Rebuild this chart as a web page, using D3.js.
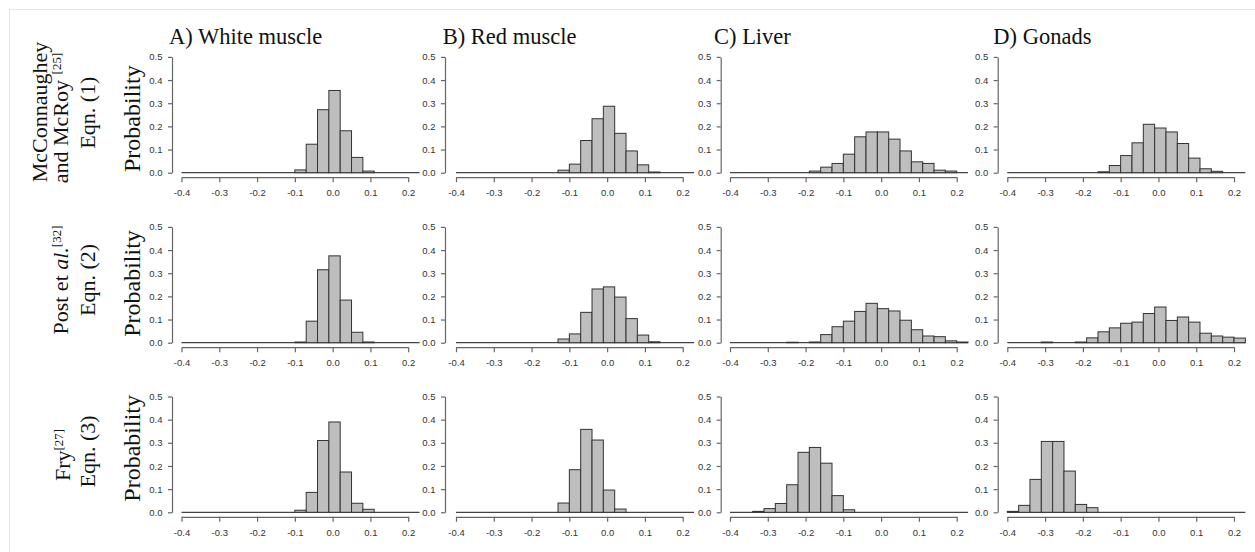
<!DOCTYPE html>
<html>
<head>
<meta charset="utf-8">
<script src="https://cdn.jsdelivr.net/npm/d3@7"></script>
<style>
  html, body { margin: 0; padding: 0; background: #fff; }
  svg { display: block; }
</style>
</head>
<body>
<svg id="chart" width="1255" height="552"></svg>
<script>
// ---------------- data ----------------
const columnTitles = ["A) White muscle", "B) Red muscle", "C) Liver", "D) Gonads"];
const xTickValues = [-0.4, -0.3, -0.2, -0.1, 0.0, 0.1, 0.2];
const yTickValues = [0.0, 0.1, 0.2, 0.3, 0.4, 0.5];
const binWidth = 0.03;
const histRange = [-0.40, 0.23];

// Row 1: McConnaughey and McRoy, Eqn. (1)
const mcc_white_start = -0.10;
const mcc_white = [0.012, 0.123, 0.272, 0.355, 0.181, 0.066, 0.007];
const mcc_red_start = -0.13;
const mcc_red = [0.011, 0.037, 0.139, 0.233, 0.287, 0.170, 0.094, 0.034, 0.003];
const mcc_liver_start = -0.19;
const mcc_liver = [0.007, 0.024, 0.040, 0.080, 0.155, 0.176, 0.176, 0.145, 0.094, 0.047, 0.040, 0.011, 0.007];
const mcc_gonads_start = -0.16;
const mcc_gonads = [0.004, 0.031, 0.074, 0.129, 0.209, 0.193, 0.176, 0.126, 0.063, 0.017, 0.006];

// Row 2: Post et al., Eqn. (2)
const post_white_start = -0.10;
const post_white = [0.003, 0.093, 0.315, 0.375, 0.184, 0.045, 0.003];
const post_red_start = -0.13;
const post_red = [0.016, 0.038, 0.131, 0.232, 0.241, 0.197, 0.104, 0.033, 0.004];
const post_liver_start = -0.25;
const post_liver = [0.002, 0.000, 0.003, 0.035, 0.069, 0.093, 0.135, 0.170, 0.147, 0.137, 0.097, 0.056, 0.029, 0.026, 0.008, 0.003];
const post_gonads_start = -0.31;
const post_gonads = [0.003, 0.000, 0.000, 0.003, 0.021, 0.047, 0.064, 0.084, 0.089, 0.126, 0.154, 0.096, 0.111, 0.089, 0.041, 0.029, 0.024, 0.020];

// Row 3: Fry, Eqn. (3)
const fry_white_start = -0.10;
const fry_white = [0.009, 0.086, 0.310, 0.390, 0.174, 0.039, 0.013];
const fry_red_start = -0.13;
const fry_red = [0.040, 0.184, 0.358, 0.312, 0.096, 0.014];
const fry_liver_start = -0.34;
const fry_liver = [0.004, 0.016, 0.038, 0.119, 0.259, 0.280, 0.212, 0.072, 0.011];
const fry_gonads_start = -0.40;
const fry_gonads = [0.004, 0.030, 0.142, 0.306, 0.306, 0.178, 0.034, 0.020];

const panels = [
  [[mcc_white_start, mcc_white], [mcc_red_start, mcc_red], [mcc_liver_start, mcc_liver], [mcc_gonads_start, mcc_gonads]],
  [[post_white_start, post_white], [post_red_start, post_red], [post_liver_start, post_liver], [post_gonads_start, post_gonads]],
  [[fry_white_start, fry_white], [fry_red_start, fry_red], [fry_liver_start, fry_liver], [fry_gonads_start, fry_gonads]]
];

// ---------------- layout ----------------
const colX0 = [181.5, 456, 730, 1007.3];   // pixel of x = -0.4
const colW = 226.7;                         // pixel span from -0.4 to 0.2
const yAxisX = [172, 445, 720.7, 997.7];
const rowY0 = [172.7, 342.7, 512.3];        // pixel of y = 0
const rowH = 115.8;                          // pixel span from 0 to 0.5

const svg = d3.select("#chart");
const serif = "'Liberation Serif', 'Times New Roman', serif";
const sans = "'Liberation Sans', Arial, sans-serif";

// thin frame
svg.append("line").attr("x1", 9).attr("x2", 1255).attr("y1", 9.5).attr("y2", 9.5)
  .attr("stroke", "#e6e6e6").attr("stroke-width", 1);
svg.append("line").attr("x1", 9.5).attr("x2", 9.5).attr("y1", 9).attr("y2", 552)
  .attr("stroke", "#e6e6e6").attr("stroke-width", 1);

const fmt = d => d.toFixed(1);

panels.forEach((row, r) => {
  row.forEach(([start, probs], c) => {
    const x = d3.scaleLinear().domain([-0.4, 0.2]).range([colX0[c], colX0[c] + colW]);
    const y = d3.scaleLinear().domain([0, 0.5]).range([rowY0[r], rowY0[r] - rowH]);
    const g = svg.append("g");

    // zero-count baseline (histogram extent)
    g.append("line")
      .attr("x1", x(histRange[0])).attr("x2", x(histRange[1]))
      .attr("y1", y(0)).attr("y2", y(0))
      .attr("stroke", "#444").attr("stroke-width", 1.3);

    const bins = probs.map((p, i) => ({x0: start + i * binWidth, x1: start + (i + 1) * binWidth, p}));
    g.selectAll("rect.bar").data(bins.filter(b => b.p > 0)).join("rect")
      .attr("class", "bar")
      .attr("x", d => x(d.x0))
      .attr("width", d => x(d.x1) - x(d.x0))
      .attr("y", d => y(d.p))
      .attr("height", d => y(0) - y(d.p))
      .attr("fill", "#bebebe")
      .attr("stroke", "#333")
      .attr("stroke-width", 1);

    // x axis
    const xa = g.append("g")
      .attr("transform", `translate(0,${rowY0[r] + 4.5})`)
      .call(d3.axisBottom(x).tickValues(xTickValues).tickFormat(fmt).tickSize(5).tickSizeOuter(0).tickPadding(7.3));
    // y axis
    const ya = g.append("g")
      .attr("transform", `translate(${yAxisX[c]},0)`)
      .call(d3.axisLeft(y).tickValues(yTickValues).tickFormat(fmt).tickSize(4).tickSizeOuter(0).tickPadding(5.5));
    [xa, ya].forEach(a => {
      a.selectAll("path.domain").attr("stroke", "#666").attr("stroke-width", 1.2);
      a.selectAll(".tick line").attr("stroke", "#666").attr("stroke-width", 1.2);
      a.selectAll("text").attr("fill", "#333").style("font-family", sans).style("font-size", "9.5px");
    });
  });

  // Probability label
  const cy = [118.7, 283.5, 448.3][r];
  svg.append("text")
    .attr("transform", `translate(139.5,${cy}) rotate(-90)`)
    .attr("text-anchor", "middle")
    .style("font-family", serif).style("font-size", "24px").attr("fill", "#111")
    .text("Probability");
});

// column titles
const titleX = [169, 442.7, 714, 993.3];
columnTitles.forEach((t, c) => {
  svg.append("text").attr("x", titleX[c]).attr("y", 44.3)
    .style("font-family", serif).style("font-size", "22.5px").attr("fill", "#111")
    .text(t);
});

// row labels (rotated)
function rowLabel(xBase, yc, parts) {
  const t = svg.append("text")
    .attr("transform", `translate(${xBase},${yc}) rotate(-90)`)
    .attr("text-anchor", "middle")
    .style("font-family", serif).style("font-size", "22px").attr("fill", "#111");
  parts.forEach(p => {
    const s = t.append("tspan").text(p.t);
    if (p.sup) s.style("font-size", "13px").attr("baseline-shift", "super");
    if (p.it) s.style("font-style", "italic");
  });
}
rowLabel(46.5, 112, [{t: "McConnaughey"}]);
rowLabel(67.5, 118, [{t: "and McRoy "}, {t: "[25]", sup: true}]);
rowLabel(95, 112.6, [{t: "Eqn. (1)"}]);

rowLabel(67.5, 280, [{t: "Post et "}, {t: "al.", it: true}, {t: "[32]", sup: true}]);
rowLabel(95, 280, [{t: "Eqn. (2)"}]);

rowLabel(70, 455, [{t: "Fry"}, {t: "[27]", sup: true}]);
rowLabel(95, 451.5, [{t: "Eqn. (3)"}]);
</script>
</body>
</html>
